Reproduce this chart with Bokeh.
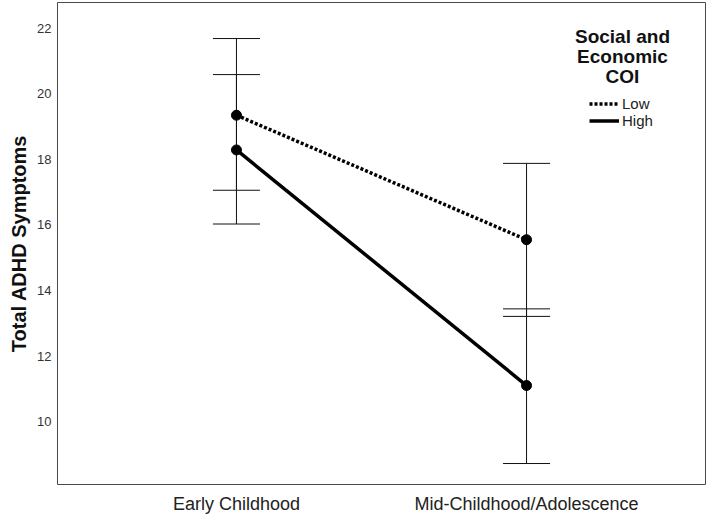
from bokeh.plotting import figure
from bokeh.models import (ColumnDataSource, FactorRange, Range1d, Whisker, TeeHead,
                          FixedTicker, Legend, LegendItem, Label, Title)
from bokeh.embed import file_html
from bokeh.resources import INLINE

# ---- data ----
categories = ["Early Childhood", "Mid-Childhood/Adolescence"]
low_mean = [19.35, 15.55]
low_lower = [17.06, 13.21]
low_upper = [21.69, 17.88]
high_mean = [18.29, 11.10]
high_lower = [16.03, 8.72]
high_upper = [20.59, 13.44]
y_ticks = [10, 12, 14, 16, 18, 20, 22]
y_title = "Total ADHD Symptoms"
legend_title = ["Social and", "Economic", "COI"]
series_names = ["Low", "High"]

FONT = "Liberation Sans"

p = figure(width=709, height=516, output_backend="svg", toolbar_location=None,
           x_range=FactorRange(factors=categories, range_padding=0.117,
                               range_padding_units="absolute"),
           y_range=Range1d(8.08, 22.79),
           min_border_left=57, min_border_right=4, min_border_top=2,
           min_border_bottom=31)

p.background_fill_color = "white"
p.border_fill_color = "white"
p.outline_line_color = "#4a4a4a"
p.outline_line_width = 1
p.xgrid.visible = False
p.ygrid.visible = False

# axes
p.yaxis.ticker = FixedTicker(ticks=y_ticks)
p.yaxis.axis_line_color = None
p.yaxis.major_tick_line_color = None
p.yaxis.minor_tick_line_color = None
p.yaxis.major_tick_out = 0
p.yaxis.major_tick_in = 0
p.yaxis.major_label_standoff = 6
p.yaxis.major_label_text_font = FONT
p.yaxis.major_label_text_font_size = "13px"
p.yaxis.major_label_text_color = "#333333"

p.xaxis.axis_line_color = None
p.xaxis.major_tick_line_color = None
p.xaxis.minor_tick_line_color = None
p.xaxis.major_tick_out = 0
p.xaxis.major_tick_in = 0
p.xaxis.major_label_standoff = 9
p.xaxis.major_label_text_font = FONT
p.xaxis.major_label_text_font_size = "18px"
p.xaxis.major_label_text_color = "#222222"

# y-axis title as a side title
p.add_layout(Title(text=y_title, align="center", standoff=9,
                   text_font=FONT, text_font_size="20px", text_font_style="bold",
                   text_color="#111111"), "left")

# error bars
src_low = ColumnDataSource(dict(x=categories, y=low_mean, lo=low_lower, hi=low_upper))
src_high = ColumnDataSource(dict(x=categories, y=high_mean, lo=high_lower, hi=high_upper))
for src in (src_low, src_high):
    w = Whisker(source=src, base="x", lower="lo", upper="hi",
                line_color="#111111", line_width=1,
                upper_head=TeeHead(size=47, line_color="#111111", line_width=1),
                lower_head=TeeHead(size=47, line_color="#111111", line_width=1))
    p.add_layout(w)

# lines
r_low = p.line("x", "y", source=src_low, line_color="black", line_width=3.5,
               line_dash="3 2")
r_high = p.line("x", "y", source=src_high, line_color="black", line_width=3.5)
p.scatter("x", "y", source=src_low, size=10, color="black")
p.scatter("x", "y", source=src_high, size=10, color="black")

# legend
legend = Legend(items=[LegendItem(label=series_names[0], renderers=[r_low]),
                       LegendItem(label=series_names[1], renderers=[r_high])],
                location=(532, 355), padding=0, margin=0, spacing=0,
                glyph_width=30, glyph_height=17, label_height=17,
                label_standoff=3, label_text_font=FONT,
                label_text_font_size="15px", label_text_color="#222222",
                border_line_color=None, background_fill_alpha=0)
p.add_layout(legend)

baselines = [448, 428, 408]
for txt, yb in zip(legend_title, baselines):
    p.add_layout(Label(x=565, y=yb, x_units="screen", y_units="screen", text=txt,
                       text_align="center", text_baseline="alphabetic",
                       text_font=FONT, text_font_size="19px",
                       text_font_style="bold", text_color="#111111"))

open("out.html", "w").write(file_html(p, INLINE))
